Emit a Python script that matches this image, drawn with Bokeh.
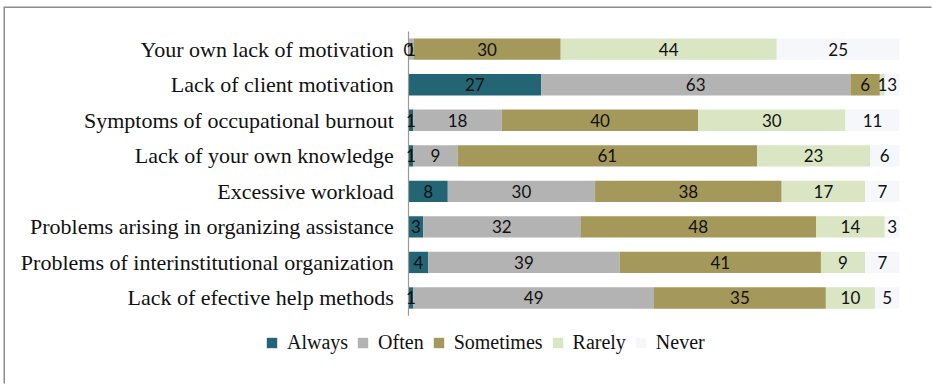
from bokeh.plotting import figure
from bokeh.models import ColumnDataSource, Legend, LegendItem, Range1d
from bokeh.embed import file_html
from bokeh.resources import INLINE
from bokeh.core.properties import value
import pandas as pd

categories = [
    "Your own lack of motivation",
    "Lack of client motivation",
    "Symptoms of occupational burnout",
    "Lack of your own knowledge",
    "Excessive workload",
    "Problems arising in organizing assistance",
    "Problems of interinstitutional organization",
    "Lack of efective help methods",
]
always = [0, 27, 1, 1, 8, 3, 4, 1]
often = [1, 63, 18, 9, 30, 32, 39, 49]
sometimes = [30, 6, 40, 61, 38, 48, 41, 35]
rarely = [44, 1, 30, 23, 17, 14, 9, 10]
never = [25, 3, 11, 6, 7, 3, 7, 5]

series = ["Always", "Often", "Sometimes", "Rarely", "Never"]
colors = ["#246575", "#B3B3B3", "#A5985B", "#D9E5C3", "#F5F7FB"]

n = len(categories)
df = pd.DataFrame({"cat": categories, "Always": always, "Often": often,
                   "Sometimes": sometimes, "Rarely": rarely, "Never": never})
df["ypos"] = [n - 1 - i for i in range(n)]
source = ColumnDataSource(df)

W, H = 928, 377
px_per_pct = 4.91
px_per_row = 35.54
x_start = -403 / px_per_pct
y_end = (n - 1) + 40.7 / px_per_row

p = figure(x_range=Range1d(x_start, x_start + W / px_per_pct),
           y_range=Range1d(y_end - H / px_per_row, y_end),
           width=W, height=H, min_border=0,
           x_axis_location=None, y_axis_location=None,
           output_backend="svg", toolbar_location=None)
p.margin = (8, 0, 0, 5)
p.styles = {"box-shadow": "-1.5px -1.5px 0 0 #8c8c8c"}
p.xgrid.grid_line_color = None
p.ygrid.grid_line_color = None
p.outline_line_color = None

renderers = p.hbar_stack(series, y="ypos", height=0.6, color=colors, source=source, line_width=0)

# category axis line at zero
p.segment(x0=[0], y0=[-0.5], x1=[0], y1=[n - 0.5], line_color="#9a9a9a", line_width=1.2)

# category labels
p.text(x=[-3.0] * n, y=df["ypos"], text=categories, text_align="right", text_baseline="middle",
       text_font=value("Liberation Serif"), text_font_size="22px", text_color="#111111")

# data labels at segment centres
lab_x, lab_y, lab_t = [], [], []
for i in range(n):
    left = 0
    for s in series:
        v = df.loc[i, s]
        lab_x.append(left + v / 2)
        lab_y.append(df.loc[i, "ypos"])
        lab_t.append(str(v))
        left += v
p.text(x=lab_x, y=lab_y, text=lab_t, text_align="center", text_baseline="middle",
       text_font=value("Lato"), text_font_size="17px", text_color="#111111")

items = [LegendItem(label=s, renderers=[r]) for s, r in zip(series, renderers)]
legend = Legend(items=items, orientation="horizontal", location=(260, 31),
                glyph_width=13, glyph_height=13, label_standoff=9, spacing=8,
                padding=0, margin=0, border_line_color=None, background_fill_alpha=0,
                label_text_font="Liberation Serif", label_text_font_size="20px",
                label_text_color="#111111")
p.add_layout(legend, "center")

open("out.html", "w").write(file_html(p, INLINE))
